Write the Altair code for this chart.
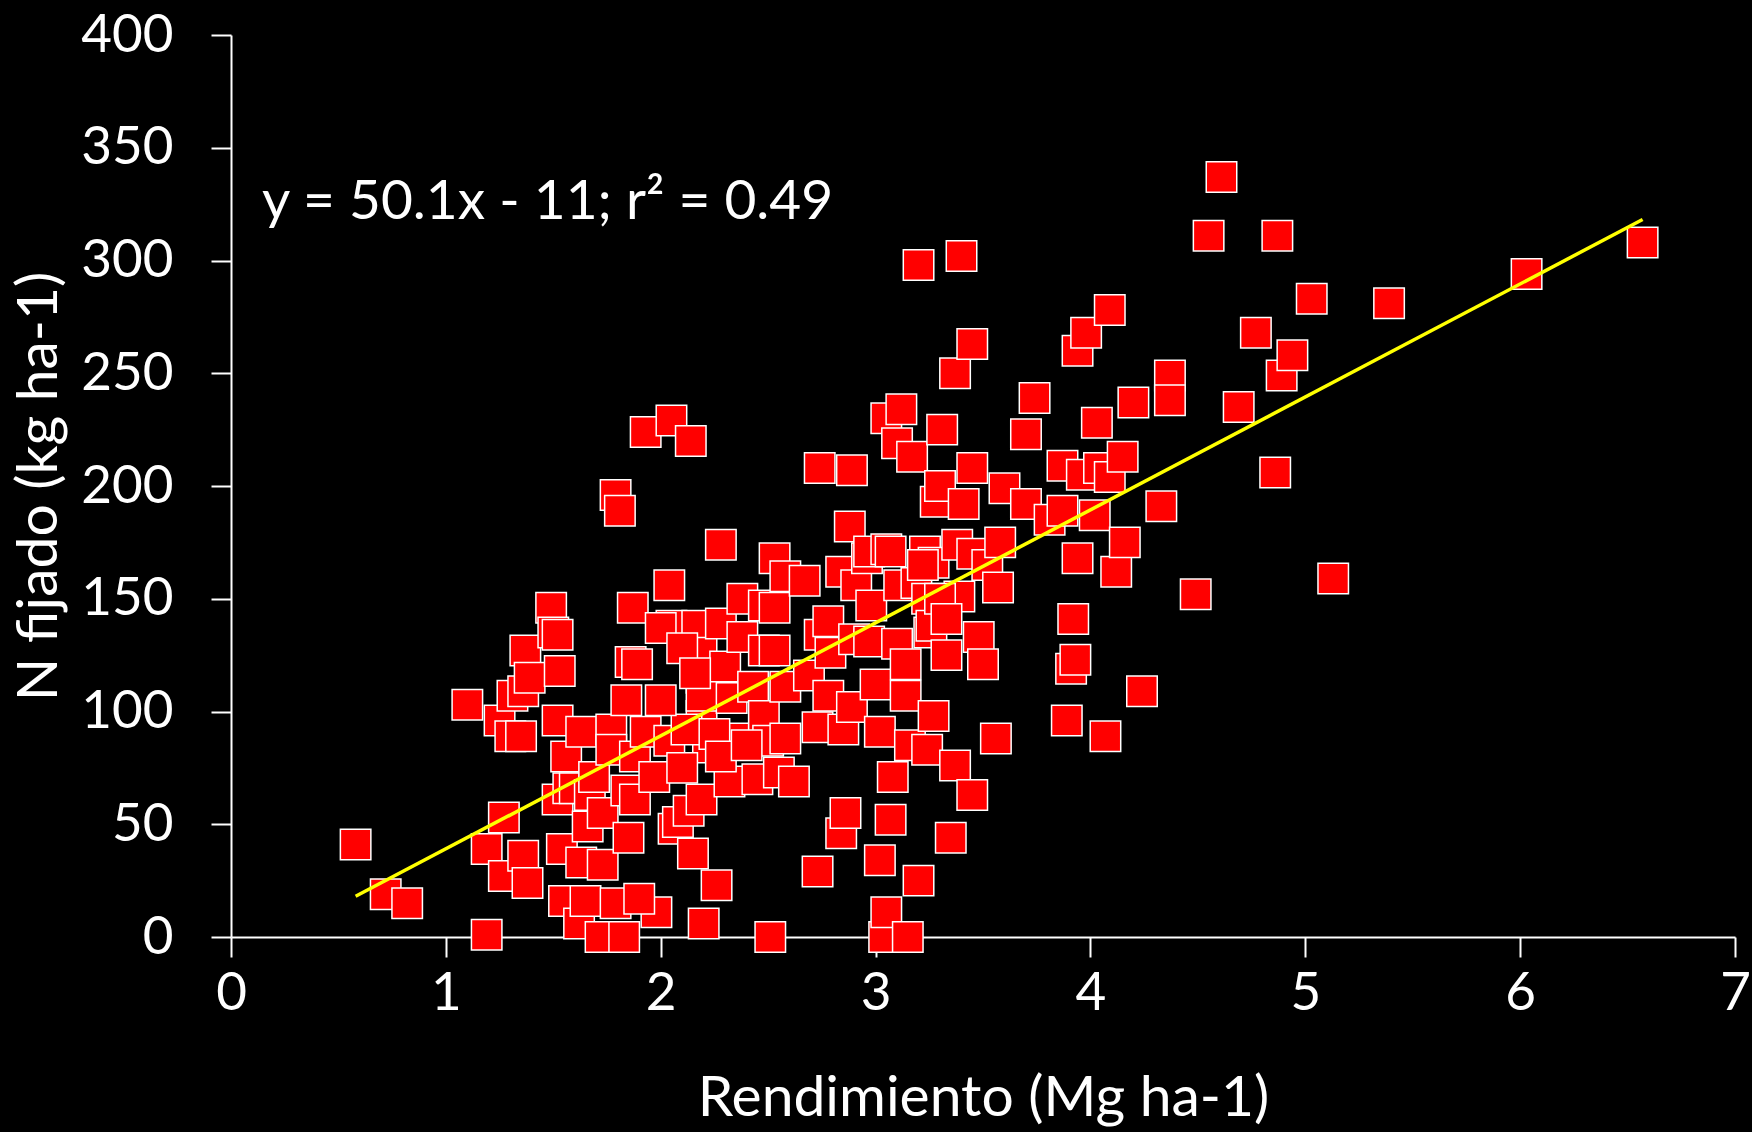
import altair as alt
import pandas as pd

# Rendimiento (Mg ha-1) and N fijado (kg ha-1) for each site-year
rendimiento = [
    0.58, 0.72, 0.82, 1.10, 1.19, 1.19, 1.25, 1.27, 1.27, 1.31, 1.30, 1.35, 1.36, 1.37, 1.36, 1.38, 1.39, 1.49,
    1.50, 1.52, 1.53, 1.52, 1.52, 1.54, 1.56, 1.55, 1.57, 1.60, 1.62, 1.63, 1.63, 1.65, 1.66, 1.67, 1.69, 1.72,
    1.73, 1.73, 1.77, 1.77, 1.79, 1.81, 1.79, 1.83, 1.84, 1.84, 1.85, 1.86, 1.87, 1.88, 1.88, 1.89, 1.93, 1.93,
    1.97, 1.98, 1.90,
    2.04, 2.05, 2.00, 2.04, 2.05, 2.06, 2.08, 2.13, 2.14, 2.15, 2.17, 2.19, 2.19, 2.19, 2.19, 2.19, 2.20, 2.22,
    2.26, 2.28, 2.28, 2.30, 2.32, 2.33, 2.34, 2.38, 2.38, 2.43, 2.45, 2.48, 2.48, 2.48, 2.50, 2.51,
    2.12, 2.10, 2.25, 2.00, 2.28, 2.40, 2.10, 2.16,
    2.53, 2.53, 2.53, 2.55, 2.58, 2.58, 2.58, 2.62, 2.67, 2.69, 2.73, 2.73, 2.74, 2.74, 2.78, 2.78, 2.79, 2.84,
    2.84, 2.86, 2.85, 2.88, 2.89, 2.89, 2.90, 2.91, 2.96, 2.97, 2.97, 2.98,
    3.00, 3.02, 3.02, 3.04, 3.05, 3.05, 3.05, 3.07, 3.07, 3.08, 3.10, 3.10, 3.11, 3.12, 3.14, 3.14, 3.15, 3.16,
    3.17, 3.19, 3.20, 3.20, 3.23, 3.24, 3.24, 3.25, 3.26, 3.27, 3.27, 3.28, 3.30, 3.31, 3.33, 3.35, 3.37, 3.37,
    3.38, 3.39, 3.40, 3.41, 3.45, 3.45, 3.45, 3.48, 3.50, 3.30, 3.33, 3.22, 3.45, 3.52,
    3.56, 3.57, 3.58, 3.60, 3.70, 3.70, 3.74, 3.81, 3.87, 3.87, 3.89, 3.91, 3.92, 3.93, 3.94, 3.94, 3.96, 3.98,
    4.02, 4.03, 4.04, 4.07, 4.09, 4.09, 4.12, 4.15, 4.16, 4.20, 4.24, 4.33, 4.37, 4.37, 4.49, 4.55, 4.61, 4.69,
    4.77, 4.87, 4.86, 4.89, 4.94, 5.03, 5.13, 5.39, 6.03, 6.57,
]
n_fijado = [
    41, 19, 15, 103, 1, 39, 96, 53, 27, 107, 89, 89, 109, 127, 36, 24, 115, 146,
    135, 134, 118, 96, 61, 39, 80, 16, 66, 66, 6, 91, 33, 16, 49, 63, 71, 0,
    55, 32, 92, 83, 196, 189, 15, 0, 105, 65, 44, 122, 146, 80, 61, 121, 224, 91,
    71, 11, 17,
    156, 138, 137, 87, 229, 48, 51, 56, 220, 37, 138, 126, 115, 98, 107, 61, 6, 84,
    23, 174, 139, 120, 69, 106, 88, 150, 133, 111, 70, 147, 127, 98, 87, 0,
    92, 75, 90, 105, 80, 85, 128, 117,
    168, 146, 127, 73, 160, 111, 88, 69, 158, 116, 93, 29, 208, 134, 140, 107, 126, 162,
    46, 55, 92, 182, 207, 102, 132, 156, 168, 171, 131, 147,
    112, 91, 34, 0, 11, 230, 172, 171, 52, 71, 219, 130, 156, 234, 121, 107, 0, 85,
    213, 157, 298, 25, 171, 150, 83, 135, 138, 166, 98, 193, 200, 225, 125, 44, 250, 76,
    174, 151, 302, 192, 263, 208, 63, 133, 121, 150, 141, 165, 170, 165,
    88, 155, 175, 199, 223, 192, 239, 185, 209, 189, 96, 119, 141, 123, 260, 168, 205, 268,
    187, 228, 208, 89, 278, 204, 162, 213, 175, 237, 109, 191, 249, 238, 152, 311, 337, 235,
    268, 311, 206, 249, 258, 283, 159, 281, 294, 308,
]

# Fitted relation shown on the chart
pendiente = 50.1
intercepto = -11.0
ecuacion = "y = 50.1x - 11; r\u00b2 = 0.49"

x_ticks = [0, 1, 2, 3, 4, 5, 6, 7]
y_ticks = [0, 50, 100, 150, 200, 250, 300, 350, 400]

puntos = pd.DataFrame({"rend": rendimiento, "nfix": n_fijado})
x_lo, x_hi = min(rendimiento), max(rendimiento)
recta = pd.DataFrame({
    "rend": [x_lo, x_hi],
    "nfix": [pendiente * x_lo + intercepto, pendiente * x_hi + intercepto],
})

FONT = "Lato"
FS = 53       # tick labels
FS_TIT = 57   # axis titles
FS_EQ = 55    # equation

x_enc = alt.X(
    "rend:Q",
    scale=alt.Scale(domain=[0, 7], nice=False, zero=True),
    axis=alt.Axis(
        values=x_ticks, format="d", title="Rendimiento (Mg ha-1)", grid=False,
        domainColor="white", domainWidth=2, tickColor="white", tickWidth=2, tickSize=20,
        labelColor="white", labelFont=FONT, labelFontSize=FS, labelPadding=10,
        labelFlush=False,
        titleColor="white", titleFont=FONT, titleFontSize=FS_TIT, titleFontWeight="normal",
        titlePadding=50,
    ),
)
y_enc = alt.Y(
    "nfix:Q",
    scale=alt.Scale(domain=[0, 400], nice=False),
    axis=alt.Axis(
        values=y_ticks, format="d", title="N fijado (kg ha-1)", grid=False,
        domainColor="white", domainWidth=2, tickColor="white", tickWidth=2, tickSize=20,
        labelColor="white", labelFont=FONT, labelFontSize=FS, labelPadding=38,
        labelFlush=False,
        titleColor="white", titleFont=FONT, titleFontSize=FS_TIT, titleFontWeight="normal",
        titlePadding=12,
    ),
)

cuadros = alt.Chart(puntos).mark_square(
    size=930, filled=True, color="#FF0000", stroke="white", strokeWidth=1.5, opacity=1
).encode(x=x_enc, y=y_enc)

linea = alt.Chart(recta).mark_line(color="#FFFF00", strokeWidth=3.5).encode(
    x="rend:Q", y="nfix:Q"
)

texto = alt.Chart(pd.DataFrame({"t": [ecuacion]})).mark_text(
    align="left", baseline="middle", font=FONT, fontSize=FS_EQ, color="white"
).encode(x=alt.value(31), y=alt.value(167), text="t:N")

chart = (
    alt.layer(cuadros, linea, texto)
    .properties(
        width=1504, height=902,
        autosize=alt.AutoSizeParams(type="none"),
        padding={"left": 231, "top": 35, "right": 17, "bottom": 195},
        background="black",
    )
    .configure_view(stroke="transparent")
)

chart.save("out.html", embed_options={"renderer": "svg", "actions": False})
